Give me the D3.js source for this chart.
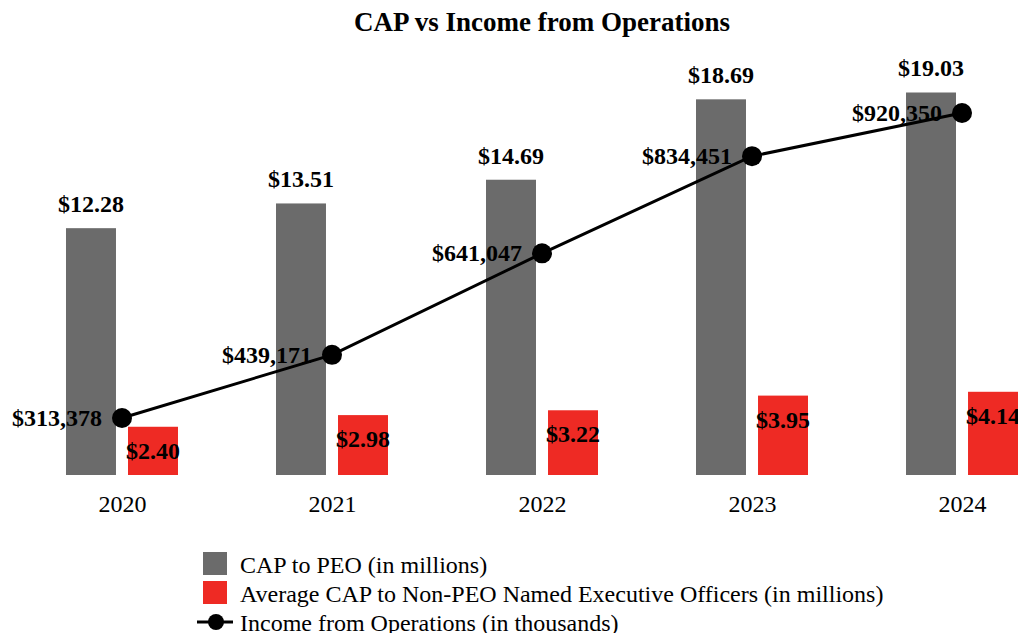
<!DOCTYPE html>
<html><head><meta charset="utf-8">
<script src="https://cdn.jsdelivr.net/npm/d3@7"></script>
<style>body{margin:0;background:#fff}svg{display:block;font-family:"Liberation Serif","Times New Roman",serif}</style>
</head><body>
<svg id="c" width="1018" height="633"></svg>
<script>
const years = ["2020","2021","2022","2023","2024"];
const capPEO = [12.28, 13.51, 14.69, 18.69, 19.03];
const capNEO = [2.40, 2.98, 3.22, 3.95, 4.14];
const income = [313378, 439171, 641047, 834451, 920350];
const seriesNames = ["CAP to PEO (in millions)", "Average CAP to Non-PEO Named Executive Officers (in millions)", "Income from Operations (in thousands)"];
const colors = ["#6b6b6b", "#ee2a24", "#000000"];

const svg = d3.select("#c");
const x = d3.scaleBand().domain(years).range([17, 1067]).paddingInner(0.4667).paddingOuter(0.2333);
const xs = d3.scaleBand().domain(["peo","neo"]).range([0, x.bandwidth()]).paddingInner(0.194);
const y = d3.scaleLinear().domain([0, 20]).range([475, 73]);
const yI = d3.scaleLinear().domain([200000, 1000000]).range([475, 73]);
const cx = d => x(d) + x.bandwidth()/2;

svg.append("text").attr("x", 542).attr("y", 31).attr("text-anchor","middle")
  .attr("font-size", 27).attr("font-weight","bold").text("CAP vs Income from Operations");

const g = svg.append("g");
years.forEach((yr, i) => {
  g.append("rect").attr("x", x(yr)+xs("peo")).attr("y", y(capPEO[i])).attr("width", xs.bandwidth())
    .attr("height", y(0)-y(capPEO[i])).attr("fill", colors[0]);
  g.append("rect").attr("x", x(yr)+xs("neo")).attr("y", y(capNEO[i])).attr("width", xs.bandwidth())
    .attr("height", y(0)-y(capNEO[i])).attr("fill", colors[1]);
  g.append("text").attr("x", x(yr)+xs("peo")+xs.bandwidth()/2).attr("y", y(capPEO[i])-16)
    .attr("text-anchor","middle").attr("font-size",24).attr("font-weight","bold").text("$"+capPEO[i].toFixed(2));
  g.append("text").attr("x", x(yr)+xs("neo")+xs.bandwidth()/2).attr("y", y(capNEO[i])+32)
    .attr("text-anchor","middle").attr("font-size",24).attr("font-weight","bold").text("$"+capNEO[i].toFixed(2));
});

const line = d3.line().x((d,i)=>cx(years[i])).y(d=>yI(d));
g.append("path").datum(income).attr("d", line).attr("fill","none").attr("stroke","#000").attr("stroke-width",3);
g.selectAll("circle.pt").data(income).join("circle").attr("class","pt")
  .attr("cx",(d,i)=>cx(years[i])).attr("cy",d=>yI(d)).attr("r",10).attr("fill","#000");
g.selectAll("text.inc").data(income).join("text").attr("class","inc")
  .attr("x",(d,i)=>cx(years[i])-20).attr("y",d=>yI(d)+8).attr("text-anchor","end")
  .attr("font-size",24).attr("font-weight","bold").text(d=>"$"+d3.format(",")(d));

// x axis labels
const xa = svg.append("g").attr("transform","translate(0,475)")
  .call(d3.axisBottom(d3.scalePoint().domain(years).range([cx(years[0]), cx(years[4])])).tickSize(0).tickPadding(20));
xa.select(".domain").remove();
xa.selectAll("text").attr("font-size",24).attr("font-family","Liberation Serif, Times New Roman, serif").attr("fill","#000");

// legend
const lg = svg.append("g");
[0,1].forEach(i=>{
  lg.append("rect").attr("x",203).attr("y",552+i*29).attr("width",24).attr("height",23).attr("fill",colors[i]);
});
lg.append("line").attr("x1",197).attr("x2",233).attr("y1",622).attr("y2",622).attr("stroke","#000").attr("stroke-width",3);
lg.append("circle").attr("cx",216).attr("cy",622).attr("r",8).attr("fill","#000");
seriesNames.forEach((s,i)=>{
  lg.append("text").attr("x",240).attr("y",573+i*29).attr("font-size",24).attr("fill","#000").text(s);
});
</script>
</body></html>
